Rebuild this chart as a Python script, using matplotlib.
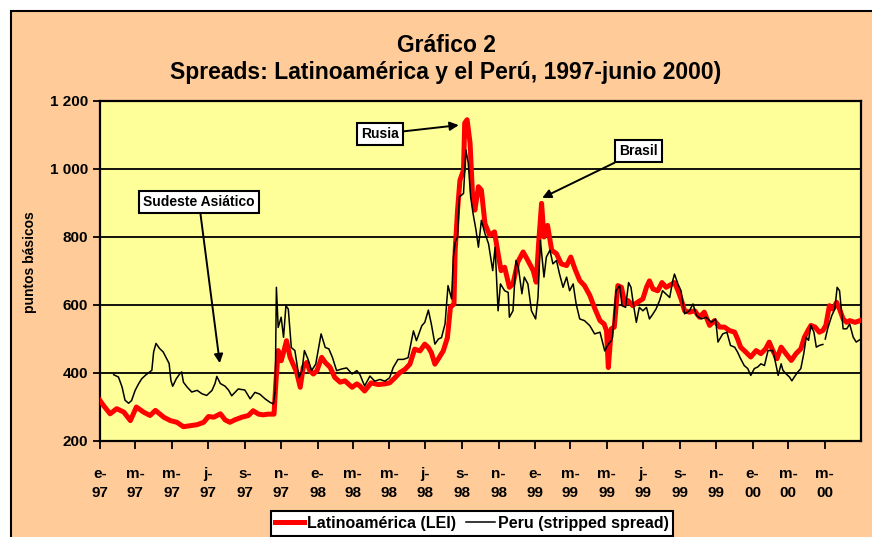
import numpy as np
import pandas as pd
import matplotlib
matplotlib.use('Agg')
import matplotlib.pyplot as plt
from matplotlib.patches import Rectangle
from matplotlib.ticker import FuncFormatter

# Latinoamérica (LEI) spread, puntos básicos
lei_dates = [
    '1997-01-01', '1997-01-07', '1997-01-18', '1997-01-29', '1997-02-10', '1997-02-21', '1997-03-03',
    '1997-03-15', '1997-03-26', '1997-04-04', '1997-04-18', '1997-04-29', '1997-05-10', '1997-05-21',
    '1997-06-01', '1997-06-13', '1997-06-24', '1997-07-02', '1997-07-11', '1997-07-22', '1997-07-30',
    '1997-08-07', '1997-08-15', '1997-08-27', '1997-09-07', '1997-09-15', '1997-09-24', '1997-10-02',
    '1997-10-10', '1997-10-20', '1997-10-23', '1997-10-27', '1997-11-01', '1997-11-05', '1997-11-10',
    '1997-11-16', '1997-11-21', '1997-11-27', '1997-12-03', '1997-12-08', '1997-12-14', '1997-12-19',
    '1997-12-25', '1997-12-31',
    '1998-01-08', '1998-01-14', '1998-01-22', '1998-01-30', '1998-02-08', '1998-02-16', '1998-02-28',
    '1998-03-08', '1998-03-13', '1998-03-21', '1998-04-01', '1998-04-13', '1998-04-24', '1998-05-02',
    '1998-05-11', '1998-05-19', '1998-05-28', '1998-06-05', '1998-06-13', '1998-06-22', '1998-06-30',
    '1998-07-06', '1998-07-11', '1998-07-17', '1998-07-24', '1998-07-31', '1998-08-07', '1998-08-12',
    '1998-08-18', '1998-08-20', '1998-08-24', '1998-08-28', '1998-09-03', '1998-09-05', '1998-09-09',
    '1998-09-14', '1998-09-18', '1998-09-22', '1998-09-28', '1998-10-03', '1998-10-09', '1998-10-17',
    '1998-10-25', '1998-10-31', '1998-11-05', '1998-11-11', '1998-11-19', '1998-11-25', '1998-12-03',
    '1998-12-12', '1998-12-20', '1998-12-29',
    '1999-01-03', '1999-01-07', '1999-01-12', '1999-01-16', '1999-01-22', '1999-01-29', '1999-02-06',
    '1999-02-14', '1999-02-23', '1999-03-02', '1999-03-09', '1999-03-17', '1999-03-25', '1999-04-03',
    '1999-04-11', '1999-04-20', '1999-04-27', '1999-05-01', '1999-05-04', '1999-05-09', '1999-05-14',
    '1999-05-20', '1999-05-26', '1999-06-01', '1999-06-06', '1999-06-14', '1999-06-22', '1999-07-01',
    '1999-07-07', '1999-07-12', '1999-07-18', '1999-07-26', '1999-08-02', '1999-08-09', '1999-08-18',
    '1999-08-23', '1999-08-29', '1999-09-03', '1999-09-09', '1999-09-17', '1999-09-26', '1999-10-04',
    '1999-10-12', '1999-10-21', '1999-10-29', '1999-11-07', '1999-11-15', '1999-11-23', '1999-12-02',
    '1999-12-07', '1999-12-12', '1999-12-21', '1999-12-29',
    '2000-01-07', '2000-01-15', '2000-01-23', '2000-01-29', '2000-02-04', '2000-02-11', '2000-02-18',
    '2000-02-26', '2000-03-06', '2000-03-14', '2000-03-22', '2000-03-28', '2000-04-03', '2000-04-08',
    '2000-04-15', '2000-04-22', '2000-04-28', '2000-05-03', '2000-05-09', '2000-05-15', '2000-05-21',
    '2000-05-26', '2000-06-01', '2000-06-07', '2000-06-12', '2000-06-21', '2000-06-29',
]
lei_values = [
    319, 304, 280, 295, 285, 260, 300, 285, 275, 290, 270, 260, 255, 242, 245, 248, 255, 272, 270, 280,
    262, 255, 262, 270, 275, 289, 279, 277, 279, 279, 368, 466, 436, 461, 495, 446, 426, 402, 358, 417,
    431, 407, 397, 407,
    446, 431, 417, 387, 373, 377, 358, 368, 362, 347, 371, 366, 368, 371, 386, 401, 411, 426, 470, 465,
    485, 475, 460, 426, 445, 465, 504, 593, 603, 761, 879, 967, 997, 1135, 1145, 1076, 928, 879, 948,
    938, 839, 805, 815, 751, 701, 711, 652, 662, 726, 756, 731, 701,
    667, 780, 899, 800, 834, 761, 751, 721, 716, 741, 706, 672, 657, 628, 591, 554, 544, 524, 416, 530,
    535, 657, 652, 603, 613, 598, 608, 618, 652, 671, 647, 642, 666, 652, 661, 666, 642, 618, 583, 579,
    583, 564, 579, 540, 554, 535, 535, 525, 520, 500, 476, 461, 447,
    466, 457, 471, 491, 466, 442, 476, 457, 437, 457, 471, 505, 525, 540, 535, 520, 525, 540, 598, 588,
    608, 588, 559, 549, 554, 549, 554,
]

# Peru (stripped spread), puntos básicos
peru_dates = [
    '1997-01-24', '1997-02-01', '1997-02-07', '1997-02-12', '1997-02-18', '1997-02-23', '1997-03-01',
    '1997-03-07', '1997-03-12', '1997-03-18', '1997-03-23', '1997-03-29', '1997-04-01', '1997-04-05',
    '1997-04-11', '1997-04-17', '1997-04-23', '1997-04-27', '1997-04-30', '1997-05-03', '1997-05-09',
    '1997-05-15', '1997-05-18', '1997-05-21', '1997-05-27', '1997-06-04', '1997-06-13', '1997-06-21',
    '1997-06-29', '1997-07-08', '1997-07-13', '1997-07-16', '1997-07-22', '1997-07-30', '1997-08-05',
    '1997-08-10', '1997-08-21', '1997-09-01', '1997-09-10', '1997-09-18', '1997-09-26', '1997-10-05',
    '1997-10-13', '1997-10-19', '1997-10-22', '1997-10-24', '1997-10-27', '1997-11-01', '1997-11-05',
    '1997-11-09', '1997-11-13', '1997-11-18', '1997-11-24', '1997-12-01', '1997-12-06', '1997-12-10',
    '1997-12-16', '1997-12-22', '1997-12-29',
    '1998-01-02', '1998-01-07', '1998-01-14', '1998-01-20', '1998-01-26', '1998-02-02', '1998-02-11',
    '1998-02-19', '1998-02-28', '1998-03-08', '1998-03-13', '1998-03-21', '1998-03-30', '1998-04-07',
    '1998-04-16', '1998-04-24', '1998-05-02', '1998-05-08', '1998-05-16', '1998-05-25', '1998-06-02',
    '1998-06-11', '1998-06-16', '1998-06-25', '1998-06-30', '1998-07-06', '1998-07-11', '1998-07-17',
    '1998-07-23', '1998-07-28', '1998-08-03', '1998-08-08', '1998-08-14', '1998-08-17', '1998-08-20',
    '1998-08-24', '1998-08-27', '1998-09-03', '1998-09-07', '1998-09-11', '1998-09-15', '1998-09-19',
    '1998-09-24', '1998-09-28', '1998-10-03', '1998-10-09', '1998-10-15', '1998-10-22', '1998-10-26',
    '1998-10-31', '1998-11-04', '1998-11-11', '1998-11-17', '1998-11-19', '1998-11-25', '1998-11-30',
    '1998-12-04', '1998-12-10', '1998-12-14', '1998-12-20', '1998-12-26',
    '1999-01-02', '1999-01-06', '1999-01-10', '1999-01-16', '1999-01-20', '1999-01-26', '1999-01-31',
    '1999-02-06', '1999-02-11', '1999-02-17', '1999-02-23', '1999-02-28', '1999-03-06', '1999-03-11',
    '1999-03-17', '1999-03-25', '1999-04-03', '1999-04-11', '1999-04-20', '1999-04-28', '1999-05-04',
    '1999-05-09', '1999-05-11', '1999-05-17', '1999-05-23', '1999-05-27', '1999-06-02', '1999-06-07',
    '1999-06-11', '1999-06-15', '1999-06-20', '1999-06-25', '1999-07-01', '1999-07-07', '1999-07-12',
    '1999-07-18', '1999-07-23', '1999-07-29', '1999-08-03', '1999-08-09', '1999-08-15', '1999-08-20',
    '1999-08-23', '1999-08-29', '1999-09-03', '1999-09-09', '1999-09-17', '1999-09-23', '1999-09-29',
    '1999-10-07', '1999-10-15', '1999-10-24', '1999-10-31', '1999-11-04', '1999-11-12', '1999-11-19',
    '1999-11-25', '1999-12-02', '1999-12-07', '1999-12-12', '1999-12-18', '1999-12-24', '1999-12-29',
    '2000-01-04', '2000-01-10', '2000-01-15', '2000-01-21', '2000-01-27', '2000-02-04', '2000-02-09',
    '2000-02-13', '2000-02-18', '2000-02-21', '2000-02-26', '2000-03-03', '2000-03-07', '2000-03-11',
    '2000-03-17', '2000-03-22', '2000-03-27', '2000-03-31', '2000-04-04', '2000-04-08', '2000-04-13',
    '2000-04-17', '2000-04-22', '2000-04-28', '2000-04-30', '2000-05-02', '2000-05-06', '2000-05-13',
    '2000-05-18', '2000-05-22', '2000-05-26', '2000-06-01', '2000-06-07', '2000-06-12', '2000-06-18',
    '2000-06-23', '2000-06-29',
]
peru_values = [
    395, 388, 359, 320, 311, 319, 349, 369, 383, 393, 400, 408, 462, 487, 472, 462, 442, 428, 378, 361,
    383, 398, 403, 373, 359, 344, 349, 339, 334, 349, 369, 390, 369, 361, 349, 333, 353, 350, 324, 343,
    338, 324, 314, 309, 348, 652, 534, 564, 505, 598, 588, 475, 466, 387, 407, 466, 441, 407, 426,
    466, 515, 475, 471, 446, 407, 412, 415, 397, 407, 396, 362, 391, 376, 381, 376, 386, 416, 440, 440,
    445, 524, 495, 539, 549, 585, 544, 485, 500, 504, 544, 657, 618, 741, 785, 800, 918, 928, 1056, 1017,
    918, 869, 820, 770, 849, 810, 780, 701, 770, 583, 662, 642, 637, 564, 583, 731, 711, 633, 682, 662,
    583,
    559, 623, 790, 682, 741, 761, 721, 731, 692, 652, 682, 642, 662, 603, 559, 554, 539, 515, 520, 465,
    485, 495, 505, 642, 657, 598, 593, 666, 652, 603, 549, 593, 583, 593, 559, 574, 588, 613, 642, 632,
    622, 671, 691, 661, 642, 574, 583, 603, 569, 559, 564, 549, 559, 491, 515, 520, 481, 476, 461, 442,
    422, 413, 393,
    413, 418, 427, 422, 466, 466, 427, 393, 427, 408, 398, 388, 377, 388, 403, 413, 457, 505, 496, 540,
    520, 476, 481, 484, np.nan, 500, 530, 569, 588, 652, 642, 530, 530, 544, 505, 491, 498,
]

MONTH_ABBR = {1: 'e', 3: 'm', 5: 'm', 7: 'j', 9: 's', 11: 'n'}

plt.rcParams['font.family'] = ['Liberation Sans', 'DejaVu Sans']
plt.rcParams['font.weight'] = 'bold'

W, H = 872, 537
fig = plt.figure(figsize=(W / 100, H / 100), dpi=100)
fig.patch.set_facecolor('white')

# peach chart area with black border (cut off at right/bottom)
fig.add_artist(Rectangle((11 / W, -0.05), 1.0, 1 - 11 / H + 0.05, transform=fig.transFigure,
                         facecolor='#FFCC99', edgecolor='black', linewidth=1.5, zorder=0))

ax = fig.add_axes([100 / W, 96 / H, 761 / W, 340 / H])
ax.set_facecolor('#FFFF99')

lei_x = pd.to_datetime(lei_dates)
peru_x = pd.to_datetime(peru_dates)

ax.plot(lei_x, lei_values, color='#FF0000', linewidth=3.6, solid_joinstyle='round',
        label='Latinoamérica (LEI)', zorder=3)
ax.plot(peru_x, peru_values, color='black', linewidth=1.1, label='Peru (stripped spread)', zorder=4)

ax.set_ylim(200, 1200)
ax.set_yticks(range(200, 1201, 200))
ax.yaxis.set_major_formatter(FuncFormatter(lambda v, p: f'{int(v):,}'.replace(',', ' ')))
ax.yaxis.grid(True, color='black', linewidth=1.3)
ax.set_axisbelow(True)

ax.set_xlim(pd.Timestamp('1997-01-01'), pd.Timestamp('2000-07-01'))
xt = pd.date_range('1997-01-01', '2000-05-01', freq='2MS')
ax.set_xticks(xt)
ax.set_xticklabels([f'{MONTH_ABBR[d.month]}-\n{d.strftime("%y")}' for d in xt], linespacing=1.45)

ax.tick_params(axis='both', direction='out', length=5, width=1.3, labelsize=11, colors='black')
ax.tick_params(axis='x', length=6, pad=13)
for s in ax.spines.values():
    s.set_linewidth(1.6)

box = dict(boxstyle='square,pad=0.3', facecolor='white', edgecolor='black', linewidth=1.5)
arrow = dict(arrowstyle='-|>', color='black', linewidth=1.4, mutation_scale=13, shrinkA=0, shrinkB=0)
ax.annotate('Rusia', xy=(pd.Timestamp('1998-08-26'), 1129), xytext=(pd.Timestamp('1998-04-16'), 1103),
            ha='center', va='center', fontsize=10, fontweight='bold', bbox=box, arrowprops=arrow)
ax.annotate('Brasil', xy=(pd.Timestamp('1999-01-13'), 915), xytext=(pd.Timestamp('1999-06-24'), 1053),
            ha='center', va='center', fontsize=10, fontweight='bold', bbox=box, arrowprops=arrow)
ax.annotate('Sudeste Asiático', xy=(pd.Timestamp('1997-07-21'), 429),
            xytext=(pd.Timestamp('1997-06-16'), 903),
            ha='center', va='center', fontsize=10, fontweight='bold', bbox=box, arrowprops=arrow)

fig.text(446 / W, 1 - 45 / H, 'Gráfico 2', ha='center', va='center', fontsize=16.5, fontweight='bold')
fig.text(446 / W, 1 - 73 / H, 'Spreads: Latinoamérica y el Perú, 1997-junio 2000)',
         ha='center', va='center', fontsize=16.5, fontweight='bold')
fig.text(30 / W, 1 - 262 / H, 'puntos básicos', rotation=90, ha='center', va='center',
         fontsize=10, fontweight='bold')

leg = fig.legend(loc='upper center', bbox_to_anchor=(472 / W, 1 - 511 / H), ncol=2, frameon=True,
                 fancybox=False, edgecolor='black', framealpha=1, fontsize=11.5, handlelength=1.8,
                 handletextpad=0.2, columnspacing=0.6, borderpad=0.3, borderaxespad=0)
leg.get_frame().set_linewidth(1.5)

fig.savefig('out.png', dpi=100, facecolor=fig.get_facecolor())
